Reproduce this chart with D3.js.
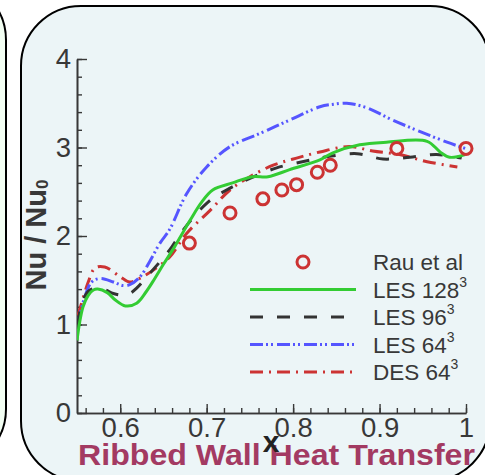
<!DOCTYPE html>
<html><head><meta charset="utf-8">
<script src="https://cdn.jsdelivr.net/npm/d3@7"></script>
<style>
html,body{margin:0;padding:0;background:#fff;}
svg{display:block;font-family:"Liberation Sans",Arial,sans-serif;}
</style></head>
<body>
<svg id="c" width="485" height="475"></svg>
<script>
// ---- data ----
const rauX = [0.680,0.727,0.765,0.787,0.804,0.828,0.843,0.920,1.000];
const rauY = [1.92,2.26,2.42,2.52,2.58,2.72,2.80,2.99,2.99];

const les128X = [0.550,0.553,0.557,0.563,0.569,0.574,0.585,0.594,0.606,0.619,0.630,0.640,0.650,0.663,0.681,0.694,0.707,0.730,0.753,0.771,0.796,0.831,0.846,0.877,0.908,0.955,0.970,0.981,0.999];
const les128Y = [0.82,1.02,1.20,1.33,1.39,1.40,1.36,1.28,1.21,1.24,1.37,1.52,1.68,1.88,2.18,2.38,2.52,2.60,2.67,2.67,2.75,2.86,2.94,3.03,3.06,3.07,2.95,2.89,2.92];

const les96X = [0.551,0.556,0.565,0.580,0.592,0.603,0.611,0.619,0.638,0.657,0.673,0.700,0.723,0.750,0.781,0.816,0.842,0.874,0.904,0.935,0.966,0.995];
const les96Y = [1.00,1.25,1.39,1.40,1.35,1.33,1.35,1.41,1.62,1.84,2.07,2.37,2.52,2.65,2.77,2.85,2.90,2.93,2.87,2.89,2.92,2.88];

const les64X = [0.551,0.559,0.567,0.577,0.592,0.603,0.611,0.623,0.634,0.646,0.657,0.677,0.700,0.727,0.762,0.796,0.831,0.848,0.862,0.885,0.915,0.947,0.978,0.999];
const les64Y = [1.02,1.31,1.48,1.52,1.48,1.44,1.45,1.54,1.71,1.92,2.07,2.48,2.78,3.01,3.16,3.31,3.46,3.49,3.50,3.45,3.31,3.18,3.06,2.99];

const des64X = [0.551,0.559,0.563,0.571,0.582,0.600,0.611,0.626,0.642,0.657,0.677,0.704,0.727,0.750,0.777,0.804,0.831,0.865,0.892,0.923,0.955,0.990];
const des64Y = [1.10,1.36,1.48,1.64,1.65,1.54,1.48,1.54,1.64,1.76,2.03,2.29,2.52,2.67,2.80,2.88,2.95,3.01,2.96,2.92,2.84,2.78];

const xTicks = [0.6,0.7,0.8,0.9,1.0];
const xTickLabels = ["0.6","0.7","0.8","0.9","1"];
const yTicks = [0,1,2,3,4];
const yTickLabels = ["0","1","2","3","4"];
const legendNames = ["Rau et al","LES 128","LES 96","LES 64","DES 64"];
const legendSup = ["","3","3","3","3"];

// ---- styles ----
const seriesStyle = [
  {x: les128X, y: les128Y, color:"#33cc33", dash:null},
  {x: les96X,  y: les96Y,  color:"#333333", dash:"13,14"},
  {x: les64X,  y: les64Y,  color:"#5555ff", dash:"13,3,2,3,2,4"},
  {x: des64X,  y: des64Y,  color:"#cc3333", dash:"13,6,2,6"}
];
const txtColor = "#383838";

const svg = d3.select("#c");

// panels
function roundRect(x0,y0,x1,y1,r){
  return `M${x0+r},${y0}H${x1-r}A${r},${r} 0 0 1 ${x1},${y0+r}V${y1-r}A${r},${r} 0 0 1 ${x1-r},${y1}H${x0+r}A${r},${r} 0 0 1 ${x0},${y1-r}V${y0+r}A${r},${r} 0 0 1 ${x0+r},${y0}Z`;
}
svg.append("path").attr("d", roundRect(-200,-20,6,469,60)).attr("fill","#f3fff3").attr("stroke","#000").attr("stroke-width",2);
svg.append("path").attr("d", roundRect(21,6,490,481,60)).attr("fill","#ecf5f7").attr("stroke","#000").attr("stroke-width",2);

const x = d3.scaleLinear().domain([0.55,1.0]).range([77,466]);
const y = d3.scaleLinear().domain([0,4]).range([413,59]);

// axes
const xMinor = d3.range(0.56,1.0001,0.02).map(v=>+v.toFixed(2));
const yMinor = d3.range(0,4.0001,0.2).map(v=>+v.toFixed(1));

const gx = svg.append("g").attr("transform","translate(0,413)");
gx.call(d3.axisBottom(x).tickValues(xMinor).tickSizeInner(-5).tickSizeOuter(0).tickFormat(""));
gx.append("g").call(d3.axisBottom(x).tickValues(xTicks).tickSizeInner(-9).tickSizeOuter(0).tickPadding(4)
  .tickFormat((d,i)=>xTickLabels[i]));
const gy = svg.append("g").attr("transform","translate(77,0)");
gy.call(d3.axisLeft(y).tickValues(yMinor).tickSizeInner(-5).tickSizeOuter(0).tickFormat(""));
gy.append("g").call(d3.axisLeft(y).tickValues(yTicks).tickSizeInner(-10).tickSizeOuter(0).tickPadding(6)
  .tickFormat((d,i)=>yTickLabels[i]));
svg.selectAll(".domain").attr("stroke",txtColor).attr("stroke-width",1.6);
svg.selectAll(".tick line").attr("stroke",txtColor).attr("stroke-width",1.4);
svg.selectAll(".tick text").attr("fill",txtColor).attr("font-size",27.5).attr("font-family","Liberation Sans, Arial, sans-serif");
gx.selectAll(".tick text").attr("dy","0.72em");

// series
svg.append("clipPath").attr("id","pc").append("rect").attr("x",77).attr("y",40).attr("width",392).attr("height",374);
const plot = svg.append("g").attr("clip-path","url(#pc)");
seriesStyle.slice().reverse().forEach(s=>{
  const pts = s.x.map((v,i)=>[v,s.y[i]]);
  const line = d3.line().x(d=>x(d[0])).y(d=>y(d[1])).curve(d3.curveCatmullRom.alpha(0.5));
  plot.append("path").attr("d",line(pts)).attr("fill","none").attr("stroke",s.color)
    .attr("stroke-width",3).attr("stroke-dasharray",s.dash).attr("stroke-linejoin","round");
});
svg.append("g").selectAll("circle").data(rauX.map((v,i)=>[v,rauY[i]])).join("circle")
  .attr("cx",d=>x(d[0])).attr("cy",d=>y(d[1])).attr("r",6).attr("fill","none")
  .attr("stroke","#cc3333").attr("stroke-width",3);

// legend
const lg = svg.append("g");
const legY0 = 262, legDy = 27.5;
legendNames.forEach((name,i)=>{
  const yy = legY0 + i*legDy;
  if(i===0){
    lg.append("circle").attr("cx",303).attr("cy",yy).attr("r",6).attr("fill","none").attr("stroke","#cc3333").attr("stroke-width",3);
  } else {
    const s = seriesStyle[i-1];
    lg.append("line").attr("x1",250).attr("x2",356).attr("y1",yy).attr("y2",yy)
      .attr("stroke",s.color).attr("stroke-width",3).attr("stroke-dasharray",s.dash);
  }
  const t = lg.append("text").attr("x",373).attr("y",yy+8).attr("font-size",22.5).attr("fill",txtColor).text(name);
  if(legendSup[i]) t.append("tspan").attr("dy",-11).attr("font-size",14).text(legendSup[i]);
});

// y axis title
const yt = svg.append("text").attr("transform","translate(46,235) rotate(-90)").attr("text-anchor","middle")
  .attr("font-size",29).attr("font-weight","bold").attr("fill",txtColor);
yt.append("tspan").text("Nu / Nu");
yt.append("tspan").attr("font-size",17).attr("dy",2).text("0");

// title
svg.append("text").attr("x",78).attr("y",465).attr("font-size",30).attr("font-weight","bold")
  .attr("fill","#a33a62").attr("textLength",397).attr("lengthAdjust","spacingAndGlyphs").text("Ribbed Wall Heat Transfer");
// x axis title
svg.append("text").attr("x",271).attr("y",452).attr("text-anchor","middle").attr("font-size",30)
  .attr("font-weight","bold").attr("fill","#222").text("x");
</script>
</body></html>
